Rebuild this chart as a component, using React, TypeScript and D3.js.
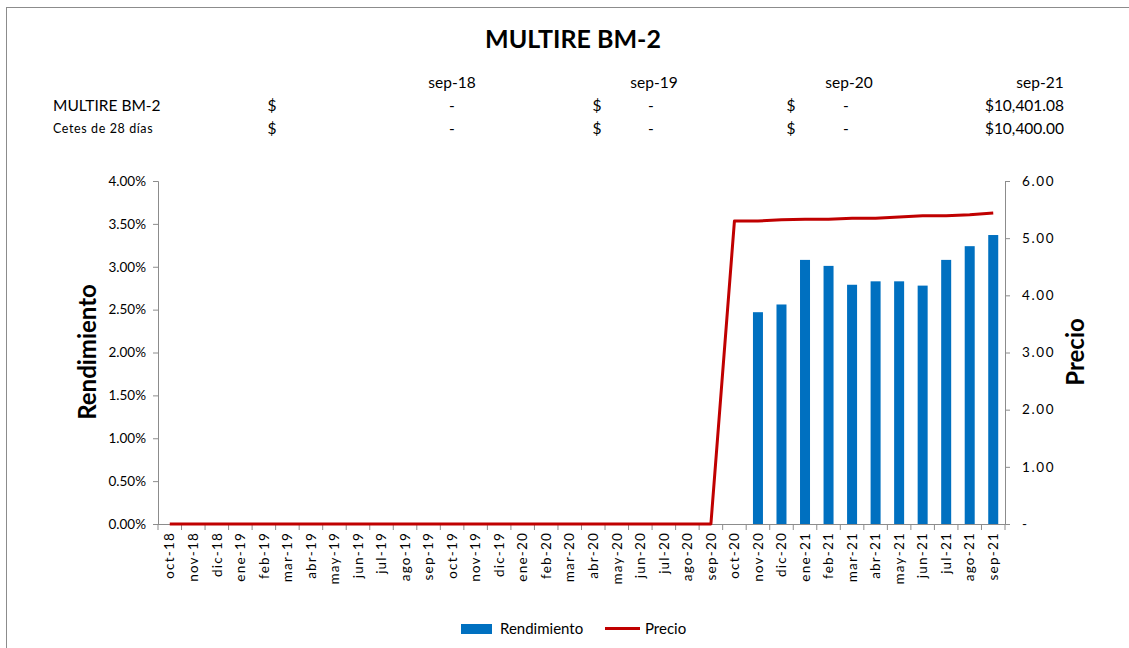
import React, { useEffect, useRef } from 'react';
import * as d3 from 'd3';

const months = [
  'oct-18', 'nov-18', 'dic-18', 'ene-19', 'feb-19', 'mar-19', 'abr-19', 'may-19', 'jun-19',
  'jul-19', 'ago-19', 'sep-19', 'oct-19', 'nov-19', 'dic-19', 'ene-20', 'feb-20', 'mar-20',
  'abr-20', 'may-20', 'jun-20', 'jul-20', 'ago-20', 'sep-20', 'oct-20', 'nov-20', 'dic-20',
  'ene-21', 'feb-21', 'mar-21', 'abr-21', 'may-21', 'jun-21', 'jul-21', 'ago-21', 'sep-21',
];

// rendimiento in %, 0 where no bar
const rendimiento = [
  0, 0, 0, 0, 0, 0, 0, 0, 0, 0, 0, 0, 0, 0, 0, 0, 0, 0, 0, 0, 0, 0, 0, 0,
  0, 2.47, 2.56, 3.08, 3.01, 2.79, 2.83, 2.83, 2.78, 3.08, 3.24, 3.37,
];

const precio = [
  0, 0, 0, 0, 0, 0, 0, 0, 0, 0, 0, 0, 0, 0, 0, 0, 0, 0, 0, 0, 0, 0, 0, 0,
  5.3, 5.3, 5.32, 5.33, 5.33, 5.35, 5.35, 5.37, 5.39, 5.39, 5.41, 5.44,
];

const leftTicks = [0, 0.5, 1, 1.5, 2, 2.5, 3, 3.5, 4];
const rightTicks = [0, 1, 2, 3, 4, 5, 6];

const tableHeaders = ['sep-18', 'sep-19', 'sep-20', 'sep-21'];
const tableRows = [
  { name: 'MULTIRE BM-2', values: ['-', '-', '-', '$10,401.08'] },
  { name: 'Cetes de 28 días', values: ['-', '-', '-', '$10,400.00'] },
];

const FONT = 'Lato, "Open Sans", sans-serif';

const App: React.FC = () => {
  const svgRef = useRef<SVGSVGElement>(null);

  useEffect(() => {
    const svg = d3.select(svgRef.current);
    svg.selectAll('*').remove();

    const left = 158;
    const right = 1005;
    const top = 181;
    const bottom = 524;

    // frame
    svg
      .append('rect')
      .attr('x', 6.5)
      .attr('y', 7.5)
      .attr('width', 1140)
      .attr('height', 660)
      .attr('fill', 'white')
      .attr('stroke', '#8c8c8c')
      .attr('stroke-width', 1);

    svg
      .append('text')
      .attr('x', 573)
      .attr('y', 48)
      .attr('text-anchor', 'middle')
      .attr('font-family', FONT)
      .attr('font-weight', 'bold')
      .attr('font-size', 25)
      .text('MULTIRE BM-2');

    // table
    const headerX = [452, 654, 849, 1040];
    const table = svg.append('g').attr('font-family', FONT).attr('fill', '#000');
    tableHeaders.forEach((h, i) => {
      table
        .append('text')
        .attr('x', headerX[i])
        .attr('y', 88)
        .attr('text-anchor', 'middle')
        .attr('font-size', 15.5)
        .text(h);
    });
    const dollarX = [272, 597, 791];
    const dashX = [452, 651, 846];
    tableRows.forEach((row, r) => {
      const y = 111 + r * 23;
      table
        .append('text')
        .attr('x', 53)
        .attr('y', y - (r === 1 ? 1 : 0))
        .attr('font-size', r === 0 ? 15.5 : 12.5)
        .attr('letter-spacing', r === 1 ? 0.6 : 0)
        .text(row.name);
      row.values.forEach((v, i) => {
        if (i < 3) {
          table.append('text').attr('x', dollarX[i]).attr('y', y).attr('text-anchor', 'middle').attr('font-size', 15.5).text('$');
          table.append('text').attr('x', dashX[i]).attr('y', y).attr('text-anchor', 'middle').attr('font-size', 15.5).text(v);
        } else {
          table.append('text').attr('x', 1064).attr('y', y).attr('text-anchor', 'end').attr('font-size', 15.5).text(v);
        }
      });
    });

    const x = d3.scaleBand<string>().domain(months).range([left, right]).padding(0);
    const yL = d3.scaleLinear().domain([0, 4]).range([bottom, top]);
    const yR = d3.scaleLinear().domain([0, 6]).range([bottom, top]);
    const barW = 10;

    // bars
    svg
      .append('g')
      .selectAll('rect')
      .data(months.map((m, i) => ({ m, v: rendimiento[i] })).filter((d) => d.v > 0))
      .join('rect')
      .attr('x', (d) => (x(d.m) as number) + x.bandwidth() / 2 - barW / 2)
      .attr('y', (d) => yL(d.v))
      .attr('width', barW)
      .attr('height', (d) => bottom - yL(d.v))
      .attr('fill', '#0070c0');

    // axes
    const axisColor = '#8c8c8c';
    const gL = svg
      .append('g')
      .attr('transform', `translate(${left},0)`)
      .call(
        d3
          .axisLeft(yL)
          .tickValues(leftTicks)
          .tickSize(5)
          .tickPadding(7)
          .tickFormat((d) => `${(+d).toFixed(2)}%`),
      );
    const gR = svg
      .append('g')
      .attr('transform', `translate(${right},0)`)
      .call(
        d3
          .axisRight(yR)
          .tickValues(rightTicks)
          .tickSize(5)
          .tickPadding(12)
          .tickFormat((d) => (+d === 0 ? '-' : (+d).toFixed(2))),
      );
    const gB = svg
      .append('g')
      .attr('transform', `translate(0,${bottom})`)
      .call(d3.axisBottom(x).tickSize(0).tickPadding(0));

    [gL, gR, gB].forEach((g) => {
      g.select('.domain').attr('stroke', axisColor);
      g.selectAll('.tick line').attr('stroke', axisColor);
      g.selectAll('.tick text').attr('font-family', FONT).attr('font-size', 13.5).attr('fill', '#000');
    });
    gR.selectAll('.tick text').attr('letter-spacing', 1.6);
    gB.select('.domain').attr('d', `M${left},0.5H${right}`);
    gB.selectAll('.tick text')
      .attr('transform', 'rotate(-90)')
      .attr('text-anchor', 'end')
      .attr('letter-spacing', 1.2)
      .attr('x', -8)
      .attr('y', 0)
      .attr('dy', '0.35em');
    // category boundary ticks
    svg
      .append('g')
      .selectAll('line')
      .data(d3.range(months.length + 1))
      .join('line')
      .attr('x1', (i) => left + i * x.step())
      .attr('x2', (i) => left + i * x.step())
      .attr('y1', bottom)
      .attr('y2', bottom + 6)
      .attr('stroke', axisColor);

    // line
    const lineGen = d3
      .line<number>()
      .x((_, i) => (x(months[i]) as number) + x.bandwidth() / 2)
      .y((d) => yR(d));
    svg
      .append('path')
      .datum(precio)
      .attr('d', lineGen)
      .attr('fill', 'none')
      .attr('stroke', '#c00000')
      .attr('stroke-width', 3)
      .attr('stroke-linejoin', 'round');

    // axis titles
    svg
      .append('text')
      .attr('transform', `translate(96,352) rotate(-90)`)
      .attr('text-anchor', 'middle')
      .attr('font-family', FONT)
      .attr('font-weight', 'bold')
      .attr('font-size', 24)
      .text('Rendimiento');
    svg
      .append('text')
      .attr('transform', `translate(1084,352) rotate(-90)`)
      .attr('text-anchor', 'middle')
      .attr('font-family', FONT)
      .attr('font-weight', 'bold')
      .attr('font-size', 24)
      .text('Precio');

    // legend
    const lg = svg.append('g').attr('font-family', FONT).attr('font-size', 15);
    lg.append('rect').attr('x', 461).attr('y', 624).attr('width', 31).attr('height', 10).attr('fill', '#0070c0');
    lg.append('text').attr('x', 500).attr('y', 634).text('Rendimiento');
    lg.append('line').attr('x1', 605).attr('x2', 640).attr('y1', 628.5).attr('y2', 628.5).attr('stroke', '#c00000').attr('stroke-width', 3);
    lg.append('text').attr('x', 645).attr('y', 634).text('Precio');
  }, []);

  return (
    <svg
      ref={svgRef}
      width={1129}
      height={648}
      style={{ position: 'absolute', left: 0, top: 0, background: 'white' }}
    />
  );
};

export default App;
